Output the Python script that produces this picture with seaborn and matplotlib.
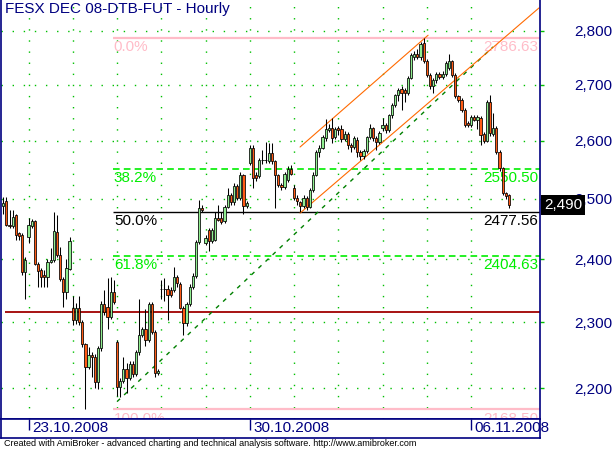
import numpy as np
import pandas as pd
import seaborn as sns
import matplotlib.pyplot as plt
from matplotlib.ticker import FixedLocator, NullLocator, FuncFormatter
from matplotlib.transforms import blended_transform_factory

# --- data (hourly FESX DEC 08 bars) ---
days = ['22.10.2008', '23.10.2008', '24.10.2008', '27.10.2008', '28.10.2008', '29.10.2008',
        '30.10.2008', '31.10.2008', '03.11.2008', '04.11.2008', '05.11.2008', '06.11.2008']
bars_per_day = [8, 14, 14, 14, 14, 14, 14, 14, 14, 14, 14, 13]
labelled_days = ['23.10.2008', '30.10.2008', '06.11.2008']

opens = [
    2488, 2497, 2457, 2454, 2472, 2443, 2440, 2380,
    2436, 2455, 2462, 2393, 2382, 2374, 2372, 2396, 2398, 2445, 2407, 2368, 2348, 2385,
    2323, 2304, 2323, 2301, 2266, 2232, 2250, 2247, 2209, 2260, 2329, 2324, 2308, 2348,
    2269, 2201, 2210, 2228, 2215, 2236, 2221, 2254, 2280, 2289, 2273, 2328, 2285, 2223,
    2353, 2352, 2353, 2351, 2351, 2372, 2360, 2323, 2299, 2328, 2356, 2373, 2428, 2485,
    2427, 2448, 2430, 2432, 2468, 2467, 2462, 2486, 2507, 2494, 2522, 2502, 2540, 2488,
    2562, 2588, 2541, 2539, 2567, 2566, 2565, 2579, 2564, 2540, 2524, 2520, 2532, 2550,
    2519, 2502, 2494, 2488, 2502, 2487, 2515, 2541, 2580, 2588, 2605, 2619, 2623, 2606,
    2622, 2621, 2603, 2612, 2593, 2589, 2602, 2580, 2573, 2582, 2606, 2622, 2605, 2597,
    2622, 2628, 2619, 2645, 2664, 2681, 2693, 2691, 2686, 2713, 2752, 2757, 2751, 2778,
    2744, 2718, 2697, 2708, 2720, 2714, 2720, 2730, 2743, 2718, 2679, 2673, 2655, 2631,
    2628, 2642, 2637, 2640, 2612, 2600, 2669, 2612, 2623, 2580, 2552, 2510, 2506,
]
highs = [
    2503, 2503, 2482, 2482, 2475, 2445, 2443, 2403,
    2468, 2466, 2465, 2396, 2386, 2383, 2400, 2419, 2477, 2472, 2420, 2371, 2401, 2437,
    2341, 2330, 2341, 2304, 2268, 2262, 2254, 2252, 2264, 2333, 2351, 2370, 2372, 2367,
    2272, 2215, 2247, 2238, 2241, 2240, 2258, 2336, 2292, 2320, 2331, 2331, 2288, 2229,
    2367, 2370, 2359, 2355, 2388, 2375, 2364, 2326, 2332, 2360, 2378, 2432, 2498, 2490,
    2440, 2452, 2452, 2477, 2490, 2477, 2490, 2518, 2510, 2527, 2525, 2545, 2542, 2496,
    2592, 2592, 2545, 2570, 2584, 2598, 2596, 2596, 2567, 2543, 2527, 2546, 2556, 2558,
    2524, 2506, 2497, 2506, 2505, 2518, 2545, 2584, 2592, 2610, 2638, 2630, 2640, 2625,
    2626, 2628, 2618, 2616, 2596, 2609, 2606, 2583, 2585, 2609, 2630, 2625, 2608, 2618,
    2640, 2632, 2648, 2667, 2684, 2694, 2697, 2695, 2716, 2758, 2762, 2766, 2779, 2786.63,
    2748, 2721, 2712, 2723, 2724, 2725, 2744, 2757, 2746, 2721, 2682, 2676, 2658, 2634,
    2646, 2645, 2646, 2644, 2615, 2673, 2682, 2650, 2626, 2583, 2555, 2512, 2508,
]
lows = [
    2475, 2454, 2452, 2452, 2432, 2432, 2375, 2336,
    2427, 2452, 2390, 2356, 2356, 2356, 2356, 2394, 2395, 2404, 2365, 2324, 2336, 2382,
    2296, 2298, 2296, 2262, 2168.5, 2228, 2217, 2200, 2198, 2256, 2312, 2289, 2305, 2328,
    2189, 2187, 2207, 2193, 2212, 2216, 2218, 2250, 2278, 2263, 2270, 2282, 2217, 2220,
    2336, 2334, 2304, 2339, 2348, 2356, 2320, 2281, 2295, 2325, 2352, 2370, 2425, 2478,
    2423, 2414, 2426, 2430, 2462, 2458, 2460, 2484, 2490, 2490, 2498, 2498, 2475, 2484,
    2558, 2519, 2530, 2535, 2560, 2562, 2562, 2560, 2485, 2520, 2515, 2517, 2528, 2540,
    2498, 2490, 2478, 2484, 2482, 2484, 2512, 2538, 2572, 2585, 2600, 2615, 2596, 2603,
    2610, 2598, 2600, 2586, 2580, 2586, 2572, 2566, 2568, 2578, 2603, 2600, 2584, 2594,
    2618, 2614, 2615, 2640, 2660, 2670, 2655, 2668, 2682, 2710, 2745, 2748, 2746, 2740,
    2714, 2692, 2686, 2704, 2710, 2711, 2717, 2727, 2714, 2676, 2669, 2651, 2624, 2624,
    2624, 2634, 2620, 2593, 2596, 2597, 2608, 2608, 2576, 2548, 2507, 2500, 2485,
]
closes = [
    2493, 2457, 2454, 2470, 2440, 2438, 2380, 2399,
    2457, 2462, 2393, 2381, 2372, 2371, 2396, 2399, 2447, 2407, 2368, 2348, 2386, 2430,
    2304, 2322, 2301, 2266, 2232, 2250, 2247, 2209, 2260, 2329, 2316, 2308, 2348, 2331,
    2201, 2210, 2228, 2215, 2236, 2221, 2254, 2281, 2289, 2273, 2328, 2285, 2223, 2226,
    2352, 2353, 2343, 2343, 2372, 2362, 2323, 2299, 2328, 2356, 2373, 2428, 2485, 2481,
    2435, 2430, 2448, 2468, 2465, 2461, 2486, 2507, 2494, 2522, 2502, 2540, 2488, 2493,
    2588, 2536, 2536, 2567, 2566, 2567, 2579, 2565, 2540, 2524, 2520, 2543, 2550, 2543,
    2502, 2496, 2488, 2502, 2487, 2515, 2541, 2580, 2588, 2607, 2621, 2623, 2604, 2621,
    2619, 2603, 2612, 2593, 2589, 2605, 2580, 2573, 2582, 2606, 2622, 2605, 2597, 2614,
    2628, 2619, 2645, 2664, 2681, 2691, 2686, 2686, 2713, 2755, 2757, 2751, 2776, 2744,
    2718, 2697, 2708, 2719, 2714, 2720, 2741, 2743, 2718, 2679, 2673, 2655, 2628, 2628,
    2642, 2637, 2642, 2610, 2600, 2669, 2613, 2623, 2580, 2552, 2510, 2504, 2490,
]

price_levels = [2200, 2300, 2400, 2500, 2600, 2700, 2800]
fib_labels = ['0.0%', '38.2%', '50.0%', '61.8%', '100.0%']
fib_values = [2786.63, 2550.50, 2477.56, 2404.63, 2168.50]
support_level = 2316

# hand drawn studies: (bar index, price) end points
trend_x = [36.0, 154.9]
trend_y = [2180, 2770]
channel_top_x = [93.9, 134.4]
channel_top_y = [2589, 2792]
channel_bot_x = [93.9, 169.5]
channel_bot_y = [2476, 2844]

df = pd.DataFrame({'open': opens, 'high': highs, 'low': lows, 'close': closes})
df['bar'] = np.arange(len(df))
day_start = np.cumsum([0] + bars_per_day[:-1])

# --- style ---
sns.set_theme(style='white')
plt.rcParams['font.family'] = ['Liberation Sans', 'DejaVu Sans']

navy = '#000080'
grid_green = '#00c000'
fib_green = '#00ee00'
pink = '#ffbcc8'
up_col = '#90ee90'
down_col = '#ff5a14'

W, H = 616, 450
fig = plt.figure(figsize=(W / 100, H / 100), dpi=100)
ax = fig.add_axes([1 / W, 1 - 419 / H, 539 / W, 419 / H])
ax.set_facecolor('white')
ax.set_yscale('log')
x0, x1 = -0.7, 169.8

# grid
for lv in price_levels:
    ax.axhline(lv, color=grid_green, lw=1, linestyle=(0, (1, 7)), zorder=0.5)
for s in day_start[1:]:
    ax.axvline(s, color=grid_green, lw=1, linestyle=(0, (1, 7)), zorder=0.5)

# fibonacci retracement
fib_start = 34.7
fib_styles = [(pink, '-', 1.6), (fib_green, (0, (4, 2.5)), 1.2), ('black', '-', 1.0),
              (fib_green, (0, (4, 2.5)), 1.2), (pink, '-', 1.6)]
for lab, val, (c, ls, lw) in zip(fib_labels, fib_values, fib_styles):
    ax.hlines(val, fib_start, x1, colors=c, linestyles=ls, lw=lw, zorder=1)
    ax.annotate(lab, xy=(fib_start + 0.3, val), xytext=(0, -1.5), textcoords='offset points',
                ha='left', va='top', color=c, fontsize=11, clip_on=True, zorder=1)
    ax.annotate(f'{val:.2f}', xy=(1 - 2 / 539, val), xycoords=('axes fraction', 'data'),
                xytext=(0, -1.5), textcoords='offset points',
                ha='right', va='top', color=c, fontsize=11, clip_on=True, zorder=1)

ax.hlines(support_level, 0.5, x1, colors='#a00000', lw=1.3, zorder=1)

# trend lines
sns.lineplot(x=trend_x, y=trend_y, ax=ax, color='#008000', lw=1, linestyle=(0, (3, 4)),
             estimator=None, sort=False, zorder=1.5)
sns.lineplot(x=channel_top_x, y=channel_top_y, ax=ax, color='#ff6a00', lw=0.8,
             estimator=None, sort=False, zorder=1.5)
sns.lineplot(x=channel_bot_x, y=channel_bot_y, ax=ax, color='#ff6a00', lw=0.8,
             estimator=None, sort=False, zorder=1.5)

# candles
up = df['close'] >= df['open']
ax.vlines(df['bar'], df['low'], df['high'], color='black', lw=0.75, zorder=2)
ax.bar(df['bar'], (df['close'] - df['open']).abs(), bottom=df[['open', 'close']].min(axis=1),
       width=0.7, color=np.where(up, up_col, down_col), edgecolor='black', linewidth=0.55,
       zorder=3)

ax.set_xlim(x0, x1)
ax.set_ylim(2154.6, 2859.2)
ax.set_xlabel('')
ax.set_ylabel('')
ax.set_xticks([])
ax.yaxis.tick_right()
ax.yaxis.set_major_locator(FixedLocator(price_levels))
ax.yaxis.set_minor_locator(NullLocator())
ax.yaxis.set_major_formatter(FuncFormatter(lambda v, p: f'{v:,.0f}'))
ax.tick_params(axis='y', which='major', length=3, width=1, color=grid_green, pad=21.5,
               labelcolor=navy, labelsize=11, direction='out')
ax.spines['top'].set_visible(False)
for side in ['left', 'right', 'bottom']:
    ax.spines[side].set_color(navy)
    ax.spines[side].set_linewidth(1.2)

ax.text(4 / 539, 1 - 2 / 419, 'FESX DEC 08-DTB-FUT - Hourly', transform=ax.transAxes,
        ha='left', va='top', color=navy, fontsize=11)

# last price marker
last_tr = blended_transform_factory(ax.transAxes, ax.transData)
ax.text(1 + 4 / 539, closes[-1], f'{closes[-1]:,.0f}', transform=last_tr, ha='left',
        va='center', color='white', fontsize=11, clip_on=False, zorder=5,
        bbox=dict(boxstyle='square,pad=0.2', fc='black', ec='none'))

# date band
ax2 = fig.add_axes([1 / W, 1 - 438 / H, 539 / W, 19 / H])
ax2.set_facecolor('white')
ax2.set_xlim(x0, x1)
ax2.set_ylim(0, 1)
ax2.set_yticks([])
tick_pos = [day_start[days.index(d)] for d in labelled_days]
ax2.set_xticks(tick_pos)
ax2.tick_params(axis='x', direction='in', length=8, width=1, color=navy, top=True,
                bottom=False, labeltop=False, labelbottom=False)
for side in ['left', 'right', 'bottom', 'top']:
    ax2.spines[side].set_color(navy)
    ax2.spines[side].set_linewidth(1.2)
for d, pos in zip(labelled_days, tick_pos):
    ax2.annotate(d, xy=(pos, 1), xycoords=('data', 'axes fraction'), xytext=(2.5, -1.5),
                 textcoords='offset points', ha='left', va='top', color=navy, fontsize=11,
                 annotation_clip=False)

fig.text(4 / W, 1 - 443 / H,
         'Created with AmiBroker - advanced charting and technical analysis software. '
         'http://www.amibroker.com', ha='left', va='center', color='black', fontsize=6.5)

fig.savefig('out.png', dpi=100, facecolor='white')
